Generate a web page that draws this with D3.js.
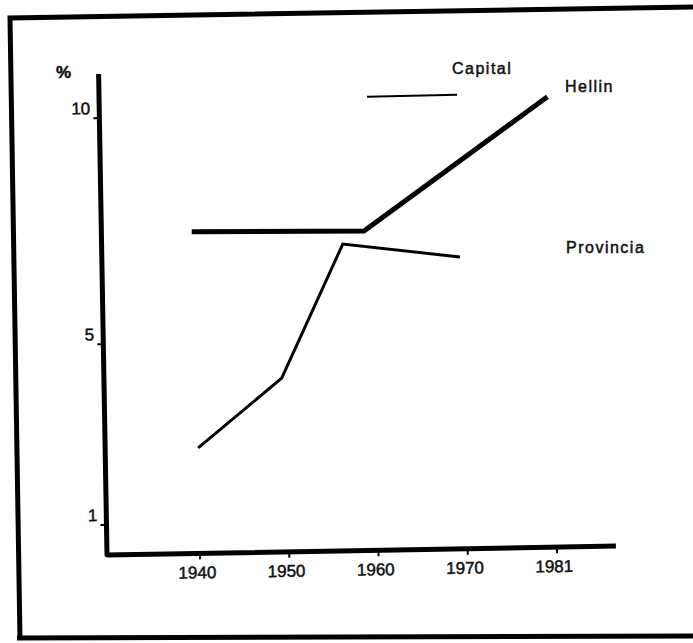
<!DOCTYPE html>
<html>
<head>
<meta charset="utf-8">
<script src="https://cdn.jsdelivr.net/npm/d3@7"></script>
<style>
	body { margin: 0; background: #fff; }
	text { font-family: "Liberation Sans", "DejaVu Sans", sans-serif; fill: #111; stroke: #111; stroke-width: 0.5px; }
</style>
</head>
<body>
<svg id="chart" width="693" height="643"></svg>
<script>
let tickYears = [1940, 1950, 1960, 1970, 1981]
let yTicks = [1, 5, 10]

let hellinYears = [1939.7, 1959, 1980.8]
let hellinValues = [7.45, 7.4, 10.3]

let provinciaYears = [1940, 1949.5, 1956.6, 1969.7]
let provinciaValues = [2.67, 4.18, 7.12, 6.79]

let capitalYears = [1959.6, 1969.7]
let capitalValues = [10.37, 10.38]

let svg = d3.select('#chart')

// scanned frame, slightly skewed
svg.append('path')
	.attr('d', 'M20,640 L10,18 L693,7')
	.attr('fill', 'none').attr('stroke', '#000').attr('stroke-width', 5)
svg.append('path')
	.attr('d', 'M17,638 L693,636')
	.attr('fill', 'none').attr('stroke', '#000').attr('stroke-width', 5)

let axisLen = 509
let axisHeight = 481
let step = 89.25

// whole plot is tilted about a degree in the scan
let g = svg.append('g').attr('transform', 'translate(107,555) rotate(-1)')

let x = d3.scaleLinear().domain(tickYears).range(tickYears.map((d, i) => 93 + i * step))
let y = d3.scaleLinear().domain([1, 10]).range([-30, -437])

let line = d3.line().x(d => x(d[0])).y(d => y(d[1]))

g.append('path')
	.attr('d', 'M0,' + (-axisHeight) + ' L0,0 L' + axisLen + ',0')
	.attr('fill', 'none').attr('stroke', '#000').attr('stroke-width', 5).attr('stroke-linejoin', 'round')

let xt = g.selectAll('g.xtick').data(tickYears).enter().append('g')
	.attr('class', 'xtick')
	.attr('transform', d => 'translate(' + x(d) + ',0)')
xt.append('line').attr('y1', 0).attr('y2', 6).attr('stroke', '#000').attr('stroke-width', 2)
xt.append('text').text(d => d).attr('text-anchor', 'middle').attr('x', -3).attr('y', 25)
	.style('font-size', '17px')

let yt = g.selectAll('g.ytick').data(yTicks).enter().append('g')
	.attr('class', 'ytick')
	.attr('transform', d => 'translate(0,' + y(d) + ')')
yt.append('line').attr('x1', -6).attr('x2', 0).attr('stroke', '#000').attr('stroke-width', 2)
yt.append('text').text(d => d).attr('text-anchor', 'end').attr('x', -9).attr('y', -4)
	.style('font-size', '17px')

g.append('path')
	.datum(d3.zip(hellinYears, hellinValues))
	.attr('d', line)
	.attr('fill', 'none').attr('stroke', '#000').attr('stroke-width', 5)

g.append('path')
	.datum(d3.zip(provinciaYears, provinciaValues))
	.attr('d', line)
	.attr('fill', 'none').attr('stroke', '#000').attr('stroke-width', 3)

g.append('path')
	.datum(d3.zip(capitalYears, capitalValues))
	.attr('d', line)
	.attr('fill', 'none').attr('stroke', '#000').attr('stroke-width', 2)

// labels
svg.append('text').text('%').attr('x', 56).attr('y', 78).style('font-size', '17px').style('font-weight', 'bold')
svg.append('text').text('Capital').attr('x', 452).attr('y', 74).style('font-size', '16px').style('letter-spacing', '1.5px')
svg.append('text').text('Hellin').attr('x', 565).attr('y', 92).style('font-size', '16px').style('letter-spacing', '1.5px')
svg.append('text').text('Provincia').attr('x', 566).attr('y', 253).style('font-size', '16px').style('letter-spacing', '1.5px')
</script>
</body>
</html>
